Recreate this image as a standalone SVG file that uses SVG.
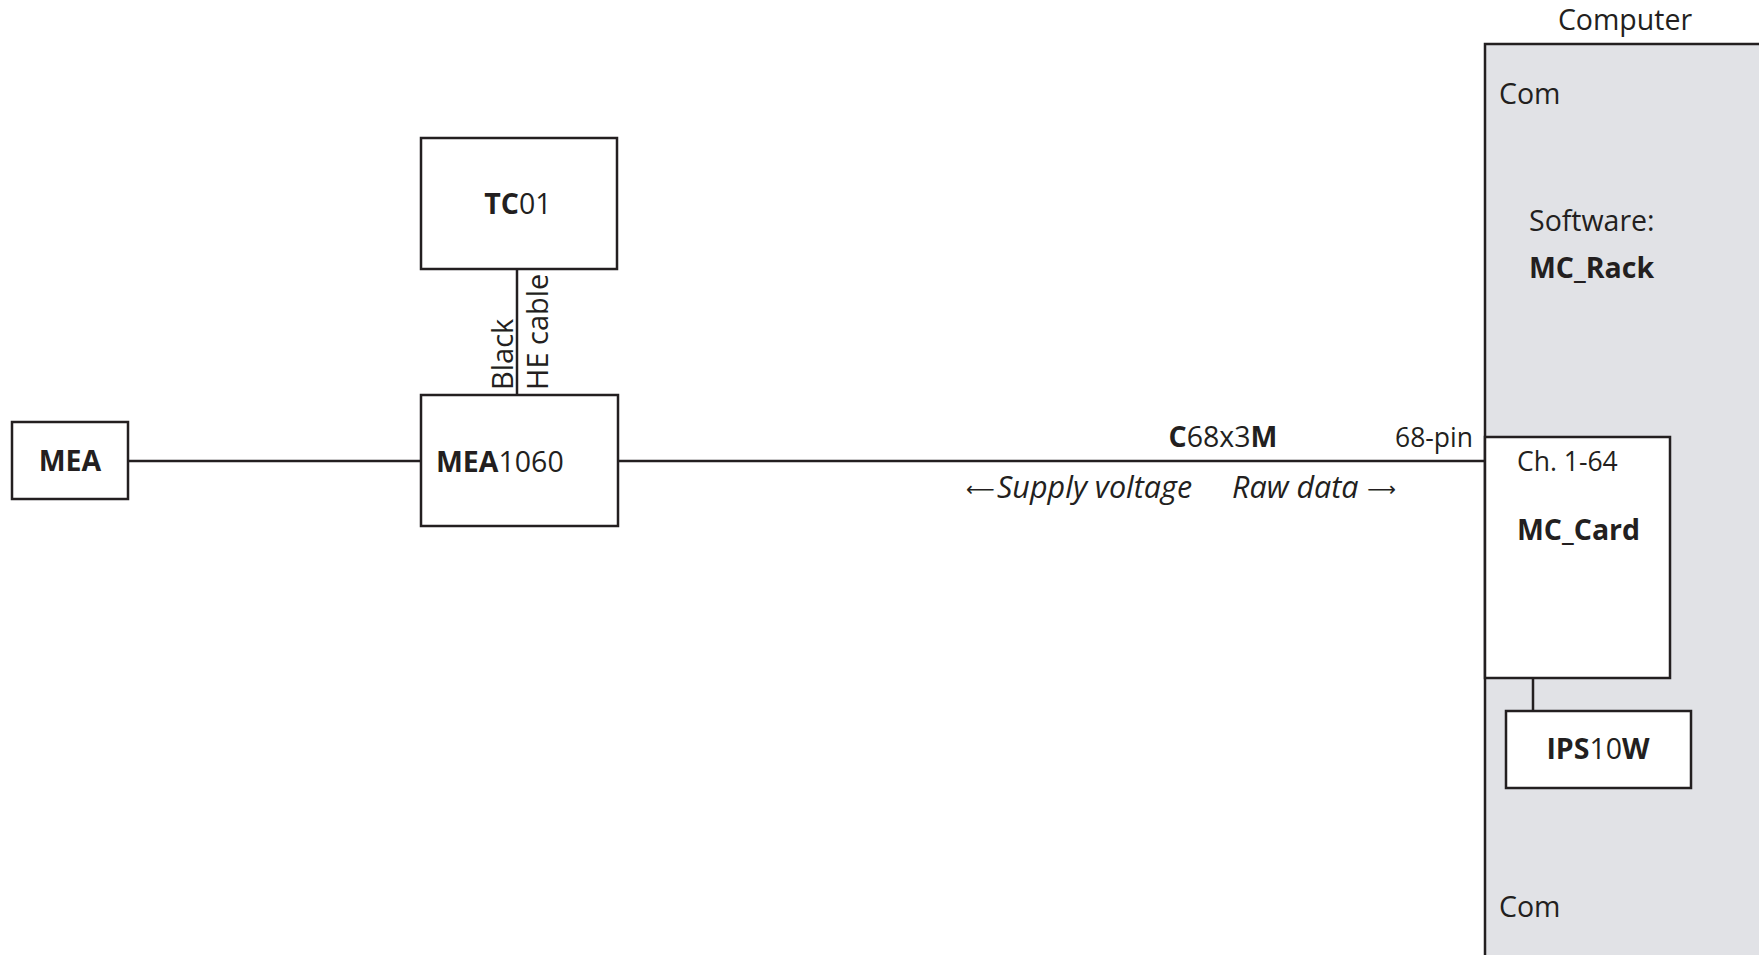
<svg xmlns="http://www.w3.org/2000/svg" width="1759" height="955" viewBox="0 0 1759 955">
<style>
text{font-family:"Open Sans","Liberation Sans",sans-serif;font-size:28.5px;fill:#231f20}
.b{font-weight:bold}
.i{font-style:italic;font-size:30.5px}
.s{font-size:26.5px}
.v{font-size:29px}
.ar{font-family:"DejaVu Sans",sans-serif;font-size:20px}
.box{fill:#fff;stroke:#231f20;stroke-width:2.5}
.ln{stroke:#231f20;stroke-width:2.5;fill:none}
</style>
<rect width="1759" height="955" fill="#fff"/>
<g id="computer">
<rect x="1485" y="44" width="300" height="920" fill="#e1e2e6" stroke="#231f20" stroke-width="2.5"/>
<text x="1625" y="30" text-anchor="middle">Computer</text>
<text x="1499" y="104">Com</text>
<text x="1529" y="231">Software:</text>
<text x="1529" y="278" class="b">MC_Rack</text>
<text x="1499" y="917">Com</text>
</g>
<g id="connectors">
<line class="ln" x1="128" y1="461" x2="421" y2="461"/>
<line class="ln" x1="618" y1="461" x2="1485" y2="461"/>
<line class="ln" x1="517" y1="269" x2="517" y2="395"/>
<line class="ln" x1="1533" y1="678" x2="1533" y2="711"/>
</g>
<g id="mea">
<rect class="box" x="12" y="422" width="116" height="77"/>
<text x="70" y="471" text-anchor="middle" class="b">MEA</text>
</g>
<g id="tc01">
<rect class="box" x="421" y="138" width="196" height="131"/>
<text x="518" y="214" text-anchor="middle"><tspan class="b">TC</tspan>01</text>
</g>
<g id="mea1060">
<rect class="box" x="421" y="395" width="197" height="131"/>
<text x="436" y="472"><tspan class="b">MEA</tspan>1060</text>
</g>
<g id="mccard">
<rect class="box" x="1485" y="437" width="185" height="241"/>
<text x="1517" y="471" class="s">Ch. 1-64</text>
<text x="1517" y="540" class="b">MC_Card</text>
</g>
<g id="ips">
<rect class="box" x="1506" y="711" width="185" height="77"/>
<text x="1598" y="759" text-anchor="middle"><tspan class="b">IPS</tspan>10<tspan class="b">W</tspan></text>
</g>
<g id="labels">
<text class="v" transform="translate(513,390) rotate(-90)">Black</text>
<text class="v" transform="translate(548,390) rotate(-90)">HE cable</text>
<text x="1223" y="447" text-anchor="middle"><tspan class="b">C</tspan>68x3<tspan class="b">M</tspan></text>
<text x="1473" y="447" text-anchor="end" class="s">68-pin</text>
<text x="966" y="496" class="ar">⟵</text>
<text x="997" y="498" class="i">Supply voltage</text>
<text x="1232" y="498" class="i">Raw data</text>
<text x="1396" y="496" class="ar" text-anchor="end">⟶</text>
</g>
</svg>
